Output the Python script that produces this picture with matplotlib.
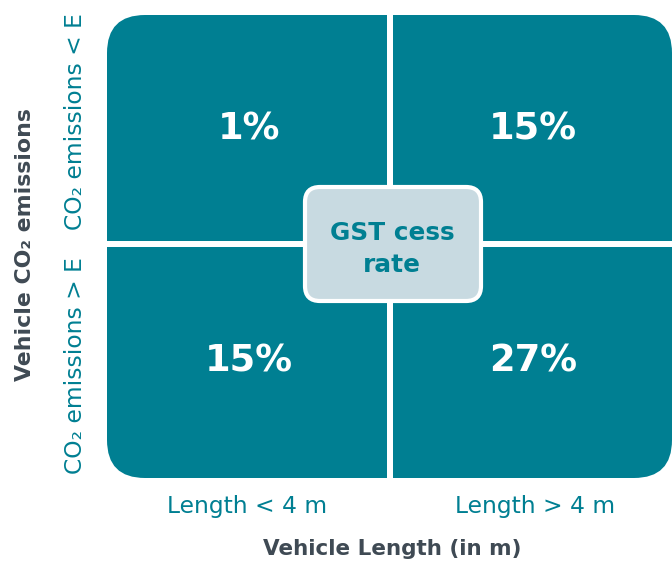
import matplotlib.pyplot as plt
from matplotlib.patches import FancyBboxPatch

# chart content
rates = [["1%", "15%"],
         ["15%", "27%"]]
row_labels = ["CO₂ emissions < E", "CO₂ emissions > E"]
col_labels = ["Length < 4 m", "Length > 4 m"]
y_title = "Vehicle CO₂ emissions"
x_title = "Vehicle Length (in m)"
center_label = "GST cess\nrate"

teal = "#007f92"
light = "#c8dae1"
dark = "#3f4a54"

W, H = 672, 562
fig = plt.figure(figsize=(W / 100, H / 100), dpi=100)
ax = fig.add_axes([0, 0, 1, 1])
ax.set_xlim(0, W)
ax.set_ylim(H, 0)
ax.axis("off")

# grid box (pixel layout)
x0, x1 = 107, 672
y0, y1 = 15, 478
xm, ym = 390, 244
gap = 6

big = FancyBboxPatch((x0, y0), x1 - x0, y1 - y0,
                     boxstyle="round,pad=0,rounding_size=38",
                     fc=teal, ec="none", zorder=1)
ax.add_patch(big)
ax.plot([xm, xm], [y0, y1], color="white", lw=gap * 0.72, zorder=2, solid_capstyle="butt")
ax.plot([x0, x1], [ym, ym], color="white", lw=gap * 0.72, zorder=2, solid_capstyle="butt")

col_x = [(x0 + xm) / 2, (xm + x1) / 2 + 2]
row_y = [(y0 + ym) / 2, (ym + y1) / 2]

for i in range(2):
    for j in range(2):
        ax.text(col_x[j], row_y[i], rates[i][j], color="white", fontsize=26.5,
                fontweight="bold", ha="center", va="center", zorder=3)

# center box
cb = FancyBboxPatch((305, 187), 176, 114,
                    boxstyle="round,pad=0,rounding_size=15",
                    fc=light, ec="white", lw=3, zorder=4)
ax.add_patch(cb)
ax.text(392, 249, center_label, color=teal, fontsize=17.8, fontweight="bold",
        ha="center", va="center", linespacing=1.45, zorder=5)

# row labels
for i in range(2):
    ax.text(75, [122, 366][i], row_labels[i], color=teal, fontsize=16.8,
            rotation=90, ha="center", va="center")
ax.text(25, 245, y_title, color=dark, fontsize=15.8, fontweight="bold",
        rotation=90, ha="center", va="center")

# column labels
for j in range(2):
    ax.text([247, 535][j], 507, col_labels[j], color=teal, fontsize=16.8,
            ha="center", va="center")
ax.text(392, 549, x_title, color=dark, fontsize=15.5, fontweight="bold",
        ha="center", va="center")

fig.savefig("out.png", dpi=100)
